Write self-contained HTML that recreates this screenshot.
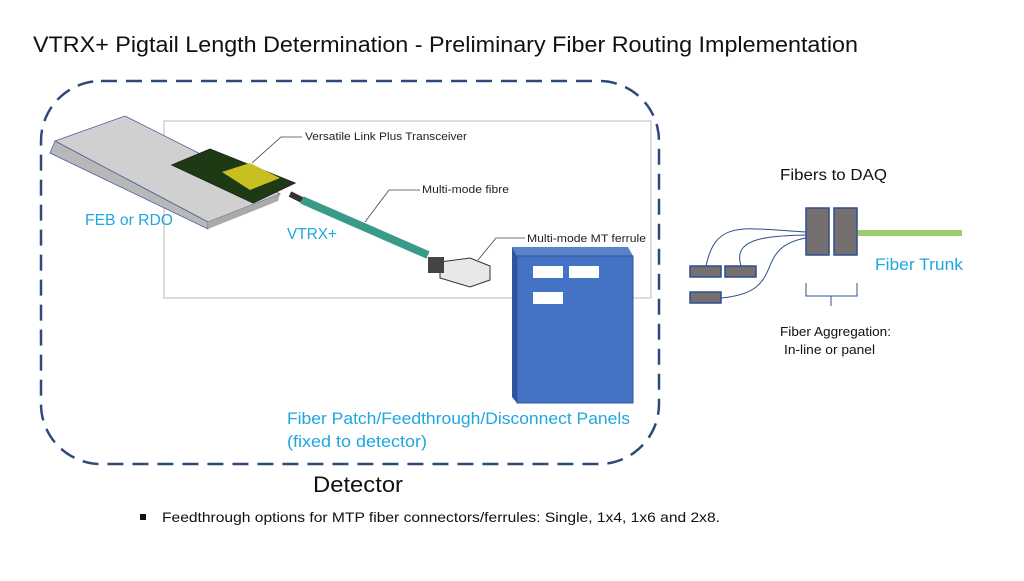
<!DOCTYPE html>
<html><head><meta charset="utf-8"><style>
body{margin:0;width:1024px;height:576px;background:#fff;overflow:hidden;font-family:"Liberation Sans",sans-serif}
</style></head><body>
<svg width="1024" height="576" viewBox="0 0 1024 576" xmlns="http://www.w3.org/2000/svg" font-family="Liberation Sans, sans-serif">
<text x="33" y="52" font-size="22" fill="#111" textLength="825" lengthAdjust="spacingAndGlyphs">VTRX+ Pigtail Length Determination - Preliminary Fiber Routing Implementation</text>
<rect x="41" y="81" width="618" height="383" rx="60" fill="none" stroke="#2f4a7a" stroke-width="2.5" stroke-dasharray="16,9"/>
<rect x="164" y="121" width="487" height="177" fill="none" stroke="#bbb" stroke-width="1"/>
<!-- board -->
<polygon points="55,141 125,116 280,194 208,222" fill="#d0d0d0" stroke="#5060a0" stroke-width="0.8"/>
<polygon points="55,141 208,222 208,229 50,153" fill="#b8b8b8" stroke="#5060a0" stroke-width="0.8"/>
<polygon points="208,222 280,194 278,201 208,229" fill="#aaa"/>
<!-- pcb -->
<polygon points="172,165 210,149 295,183 253,203" fill="#1e3a14" stroke="#222"/>
<polygon points="222,172 250,163 280,178 250,190" fill="#c8c020"/>
<!-- fiber -->
<line x1="290" y1="194" x2="302" y2="200" stroke="#333" stroke-width="6"/>
<line x1="302" y1="200" x2="428" y2="255" stroke="#3a9a8a" stroke-width="8"/>
<polygon points="440,262 470,258 490,266 490,280 470,287 440,278" fill="#e8e8e8" stroke="#333"/>
<rect x="428" y="257" width="16" height="16" fill="#444"/>
<!-- callouts -->
<g fill="none" stroke="#444" stroke-width="0.8">
<polyline points="252,163 281,137 302,137"/>
<polyline points="365,222 389,190 420,190"/>
<polyline points="478,260 496,238 525,238"/>
</g>
<g font-size="11" fill="#222">
<text x="305" y="140" textLength="162" lengthAdjust="spacingAndGlyphs">Versatile Link Plus Transceiver</text>
<text x="422" y="193" textLength="87" lengthAdjust="spacingAndGlyphs">Multi-mode fibre</text>
<text x="527" y="242" textLength="119" lengthAdjust="spacingAndGlyphs">Multi-mode MT ferrule</text>
</g>
<!-- blue box -->
<polygon points="512,247 628,247 633,256 517,256" fill="#5a82c8"/>
<polygon points="512,247 517,256 517,403 512,397" fill="#2d55a0"/>
<rect x="517" y="256" width="116" height="147" fill="#4472c4" stroke="#2f5597"/>
<rect x="533" y="266" width="30" height="12" fill="#fff"/>
<rect x="569" y="266" width="30" height="12" fill="#fff"/>
<rect x="533" y="292" width="30" height="12" fill="#fff"/>
<g fill="#1fa7e0">
<text x="85" y="225" font-size="16" textLength="88" lengthAdjust="spacingAndGlyphs">FEB or RDO</text>
<text x="287" y="239" font-size="16" textLength="50" lengthAdjust="spacingAndGlyphs">VTRX+</text>
<text x="287" y="424" font-size="17" textLength="343" lengthAdjust="spacingAndGlyphs">Fiber Patch/Feedthrough/Disconnect Panels</text>
<text x="287" y="447" font-size="17" textLength="140" lengthAdjust="spacingAndGlyphs">(fixed to detector)</text>
<text x="875" y="270" font-size="17" textLength="88" lengthAdjust="spacingAndGlyphs">Fiber Trunk</text>
</g>
<text x="313" y="492" font-size="22" fill="#111" textLength="90" lengthAdjust="spacingAndGlyphs">Detector</text>
<rect x="140" y="514" width="6" height="6" fill="#111"/>
<text x="162" y="522" font-size="14" fill="#111" textLength="558" lengthAdjust="spacingAndGlyphs">Feedthrough options for MTP fiber connectors/ferrules: Single, 1x4, 1x6 and 2x8.</text>
<!-- right side -->
<text x="780" y="180" font-size="16" fill="#111" textLength="107" lengthAdjust="spacingAndGlyphs">Fibers to DAQ</text>
<line x1="858" y1="233" x2="962" y2="233" stroke="#9acd70" stroke-width="6"/>
<g fill="#756f6f" stroke="#2f4f8f" stroke-width="1.5">
<rect x="806" y="208" width="23" height="47"/>
<rect x="834" y="208" width="23" height="47"/>
<rect x="690" y="266" width="31" height="11"/>
<rect x="725" y="266" width="31" height="11"/>
<rect x="690" y="292" width="31" height="11"/>
</g>
<g fill="none" stroke="#2f4f8f" stroke-width="1">
<path d="M706,266 C716,220 740,228 806,232"/>
<path d="M741,266 C733,240 760,236 806,235"/>
<path d="M721,298 C790,292 750,248 806,238"/>
<path d="M806,283 L806,296 L857,296 L857,283 M831,296 L831,306"/>
</g>
<text x="780" y="336" font-size="13" fill="#111" textLength="111" lengthAdjust="spacingAndGlyphs">Fiber Aggregation:</text>
<text x="784" y="354" font-size="13" fill="#111" textLength="91" lengthAdjust="spacingAndGlyphs">In-line or panel</text>
</svg>
</body></html>
